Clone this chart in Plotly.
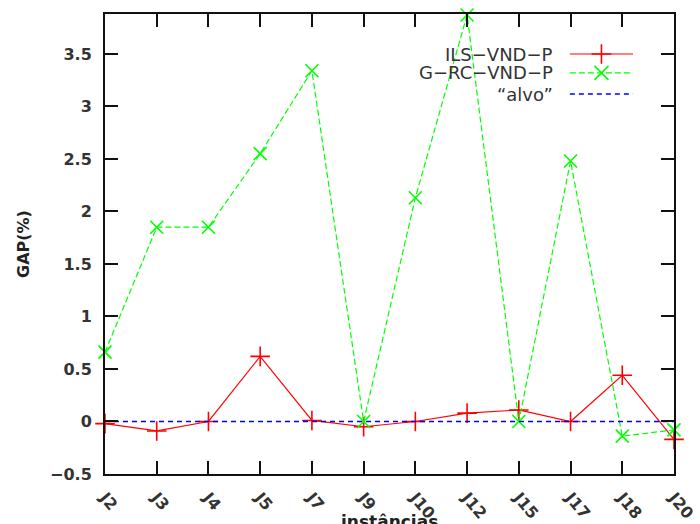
import plotly.graph_objects as go

instancias = ["J2", "J3", "J4", "J5", "J7", "J9", "J10", "J12", "J15", "J17", "J18", "J20"]
ils_vnd_p = [-0.02, -0.09, 0.0, 0.62, 0.01, -0.05, 0.0, 0.08, 0.11, 0.0, 0.44, -0.17]
g_rc_vnd_p = [0.66, 1.85, 1.85, 2.55, 3.34, 0.0, 2.13, 3.87, 0.0, 2.48, -0.14, -0.08]
alvo = [0.0] * len(instancias)

y_ticks = [-0.5, 0, 0.5, 1, 1.5, 2, 2.5, 3, 3.5]
y_tick_text = ["\u22120.5", "0", "0.5", "1", "1.5", "2", "2.5", "3", "3.5"]

RED = "#ff0000"
GREEN = "#00ff00"
BLUE = "#0000ff"
GREEN_DASH = "6px,3px"
BLUE_DASH = "5px,4px"

fig = go.Figure()
fig.add_trace(go.Scatter(
    x=instancias, y=ils_vnd_p, mode="lines+markers", name="ILS\u2212VND\u2212P",
    line=dict(color=RED, width=1.2),
    marker=dict(symbol="cross-thin", size=14, line=dict(color=RED, width=1.6)),
    cliponaxis=False, showlegend=False))
fig.add_trace(go.Scatter(
    x=instancias, y=g_rc_vnd_p, mode="lines+markers", name="G\u2212RC\u2212VND\u2212P",
    line=dict(color=GREEN, width=1.2, dash=GREEN_DASH),
    marker=dict(symbol="x-thin", size=13, line=dict(color=GREEN, width=1.6)),
    cliponaxis=False, showlegend=False))
fig.add_trace(go.Scatter(
    x=instancias, y=alvo, mode="lines", name="\u201calvo\u201d",
    line=dict(color=BLUE, width=1.6, dash=BLUE_DASH),
    cliponaxis=False, showlegend=False))

# Custom legend (text on the left, key on the right) drawn on an overlay axis pair
legend_rows = [
    ("ILS\u2212VND\u2212P", RED, "solid", "cross-thin", 0.913),
    ("G\u2212RC\u2212VND\u2212P", GREEN, GREEN_DASH, "x-thin", 0.872),
    ("\u201calvo\u201d", BLUE, BLUE_DASH, None, 0.826),
]
key_x0, key_x1 = 0.817, 0.928
text_x = 0.791
annotations = []
for label, color, dash, symbol, yy in legend_rows:
    fig.add_trace(go.Scatter(
        x=[key_x0, key_x1], y=[yy, yy], mode="lines", xaxis="x2", yaxis="y2",
        line=dict(color=color, width=1.6 if symbol is None else 1.2, dash=dash),
        showlegend=False, hoverinfo="skip"))
    if symbol:
        fig.add_trace(go.Scatter(
            x=[(key_x0 + key_x1) / 2], y=[yy], mode="markers", xaxis="x2", yaxis="y2",
            marker=dict(symbol=symbol, size=14, line=dict(color=color, width=1.6)),
            showlegend=False, hoverinfo="skip"))
    annotations.append(dict(
        text=label, x=text_x, y=yy, xref="paper", yref="paper",
        xanchor="right", yanchor="middle", showarrow=False,
        font=dict(family="DejaVu Sans", size=18, color="#333333")))

annotations.append(dict(
    text="instâncias", x=0.5, y=0, xref="paper", yref="paper", yshift=-48,
    xanchor="center", yanchor="middle", showarrow=False,
    font=dict(family="DejaVu Sans", size=17, color="#222222", weight="bold")))
annotations.append(dict(
    text="GAP(%)", x=0, y=0.5, xref="paper", yref="paper", xshift=-82,
    xanchor="center", yanchor="middle", showarrow=False, textangle=-90,
    font=dict(family="DejaVu Sans", size=16, color="#222222", weight="bold")))

axis_common = dict(
    showline=True, linecolor="#111111", linewidth=2, mirror="allticks",
    ticks="inside", ticklen=13, tickwidth=1.5, tickcolor="#111111",
    showgrid=False, zeroline=False, automargin=False,
    tickfont=dict(family="DejaVu Sans", size=16, color="#333333", weight="bold"),
)

fig.update_layout(
    width=700, height=524, autosize=False,
    margin=dict(l=105, r=26, t=14, b=50),
    paper_bgcolor="white", plot_bgcolor="white",
    xaxis=dict(axis_common, type="category", range=[0, len(instancias) - 1],
               tickangle=50, ticklabelstandoff=6),
    yaxis=dict(axis_common, range=[-0.5, 3.88], tickvals=y_ticks, ticktext=y_tick_text,
               ticklabelstandoff=8),
    xaxis2=dict(overlaying="x", range=[0, 1], visible=False),
    yaxis2=dict(overlaying="y", range=[0, 1], visible=False),
    annotations=annotations,
    showlegend=False,
)

fig.write_html("out.html", config={"displayModeBar": False},
               post_script="document.body.style.margin='0px';")
